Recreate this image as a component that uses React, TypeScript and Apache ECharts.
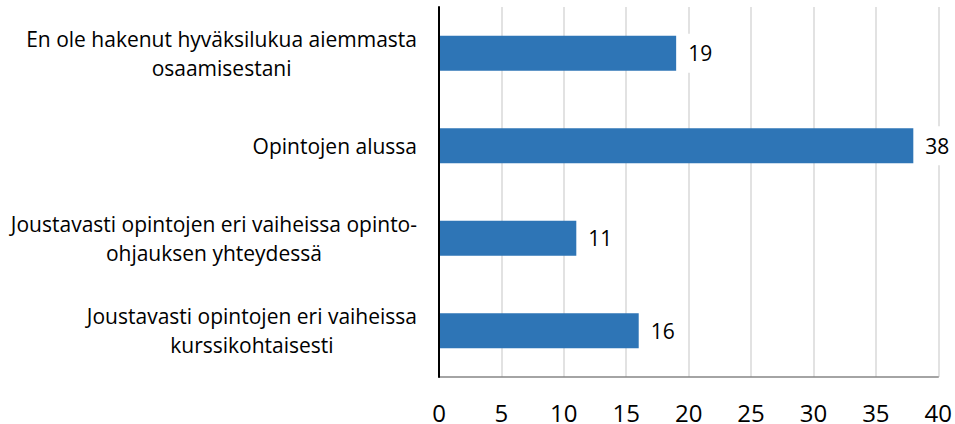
import React, { useEffect, useRef } from "react";
import * as echarts from "echarts";

const categories: string[] = [
  "En ole hakenut hyväksilukua aiemmasta\nosaamisestani",
  "Opintojen alussa",
  "Joustavasti opintojen eri vaiheissa opinto-\nohjauksen yhteydessä",
  "Joustavasti opintojen eri vaiheissa\nkurssikohtaisesti",
];
const values: number[] = [19, 38, 11, 16];
const xTicks = { min: 0, max: 40, interval: 5 };

const FONT = "'Open Sans', sans-serif";

export default function App() {
  const ref = useRef<HTMLDivElement>(null);
  useEffect(() => {
    if (!ref.current) return;
    const chart = echarts.init(ref.current, undefined, { renderer: "svg" });
    chart.setOption({
      animation: false,
      backgroundColor: "#ffffff",
      grid: { left: 439, right: 16, top: 7, bottom: 47, containLabel: false },
      xAxis: {
        type: "value",
        min: xTicks.min,
        max: xTicks.max,
        interval: xTicks.interval,
        axisLine: { show: true, lineStyle: { color: "#868686", width: 1.5 } },
        axisTick: { show: false },
        splitLine: { show: true, lineStyle: { color: "#d9d9d9", width: 1.5 } },
        axisLabel: {
          color: "#000",
          fontSize: 24,
          lineHeight: 20,
          fontFamily: FONT,
          margin: 25,
        },
      },
      yAxis: {
        type: "category",
        inverse: true,
        data: categories,
        z: 5,
        axisLine: { show: true, lineStyle: { color: "#000", width: 2 } },
        axisTick: { show: false },
        axisLabel: {
          margin: 22,
          fontSize: 21,
          lineHeight: 29,
          fontFamily: FONT,
          color: "#000",
          align: "right",
          formatter: (v: string) =>
            v
              .split("\n")
              .map((l) => `{c|${l}}`)
              .join("\n"),
          rich: {
            c: {
              align: "center",
              fontSize: 21,
              lineHeight: 29,
              fontFamily: FONT,
              color: "#000",
            },
          },
        },
      },
      series: [
        {
          type: "bar",
          data: values,
          barWidth: 35,
          itemStyle: { color: "#2E75B6" },
          label: {
            show: true,
            position: "right",
            distance: 9,
            color: "#000",
            fontSize: 21,
            fontFamily: FONT,
            backgroundColor: "#ffffff",
            padding: [9, 3],
          },
        },
      ],
    });
    return () => chart.dispose();
  }, []);
  return (
    <div
      ref={ref}
      style={{ position: "fixed", left: 0, top: 0, width: 955, height: 424 }}
    />
  );
}
